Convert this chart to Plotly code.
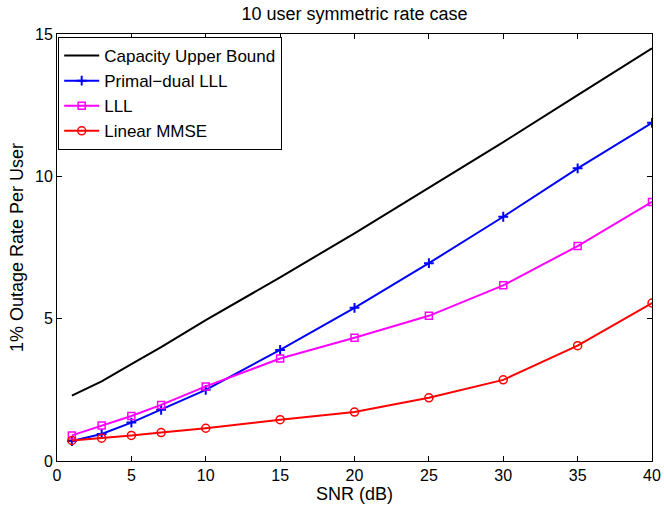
import plotly.graph_objects as go

snr = [1, 3, 5, 7, 10, 15, 20, 25, 30, 35, 40]
capacity = [2.3, 2.8, 3.4, 4.0, 4.95, 6.45, 8.0, 9.6, 11.2, 12.85, 14.5]
primal_dual = [0.7, 0.95, 1.35, 1.8, 2.5, 3.9, 5.38, 6.95, 8.58, 10.28, 11.88]
lll = [0.9, 1.25, 1.58, 1.97, 2.62, 3.6, 4.33, 5.1, 6.17, 7.55, 9.1]
mmse = [0.72, 0.8, 0.9, 1.0, 1.15, 1.45, 1.72, 2.22, 2.85, 4.05, 5.55]

xticks = [0, 5, 10, 15, 20, 25, 30, 35, 40]
yticks = [0, 5, 10, 15]

FONT = "Liberation Sans, Arial, sans-serif"

fig = go.Figure()
fig.add_trace(go.Scatter(x=snr, y=capacity, mode="lines", name="Capacity Upper Bound",
                         line=dict(color="black", width=2)))
fig.add_trace(go.Scatter(x=snr, y=primal_dual, mode="lines+markers", name="Primal\u2212dual LLL",
                         line=dict(color="#0000ff", width=2),
                         marker=dict(symbol="cross-thin", size=7, line=dict(color="#0000ff", width=2))))
fig.add_trace(go.Scatter(x=snr, y=lll, mode="lines+markers", name="LLL",
                         line=dict(color="#ff00ff", width=2),
                         marker=dict(symbol="square-open", size=7, line=dict(color="#ff00ff", width=1.5))))
fig.add_trace(go.Scatter(x=snr, y=mmse, mode="lines+markers", name="Linear MMSE",
                         line=dict(color="#ff0000", width=2),
                         marker=dict(symbol="circle-open", size=8, line=dict(color="#ff0000", width=1.5))))

axis_common = dict(showgrid=False, zeroline=False, showline=True, linecolor="black", linewidth=1,
                   mirror="ticks", ticks="inside", ticklen=5, tickcolor="black", automargin=False,
                   tickfont=dict(family=FONT, size=16, color="black"))

fig.update_layout(
    width=664, height=505,
    margin=dict(l=57, r=12, t=34, b=44),
    paper_bgcolor="white", plot_bgcolor="white",
    font=dict(family=FONT, size=16, color="black"),
    title=dict(text="10 user symmetric rate case", x=(57 + 652) / 2 / 664, xanchor="center",
               y=1 - 14 / 505, yanchor="middle", font=dict(size=18)),
    xaxis=dict(range=[0, 40], tickvals=xticks, title=dict(text="SNR (dB)", standoff=1, font=dict(size=18)),
               **axis_common),
    yaxis=dict(range=[0, 15], tickvals=yticks, title=dict(text="1% Outage Rate Per User", standoff=6,
                                                          font=dict(size=18)),
               **axis_common),
    legend=dict(x=0.002, y=0.993, xanchor="left", yanchor="top", bordercolor="black", borderwidth=1,
                bgcolor="white", font=dict(size=17), tracegroupgap=0, itemwidth=35),
    showlegend=True,
)

fig.write_html("out.html", config={"displayModeBar": False},
               post_script="document.body.style.margin='0';document.body.style.overflow='hidden';")
